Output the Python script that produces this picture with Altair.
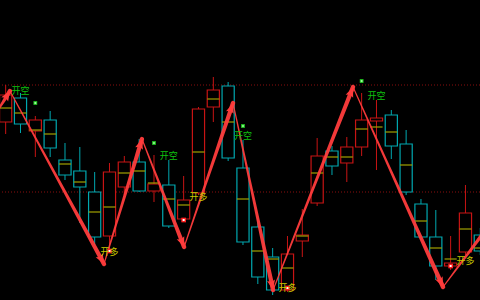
import math
import altair as alt
import pandas as pd

# ---- candle data (price units) ----
OPEN  = [3478, 3502, 3469, 3480, 3440, 3429, 3408, 3364, 3413, 3438, 3409, 3415, 3381, 3407, 3493, 3514, 3432,
         3373, 3343, 3310, 3359, 3397, 3449, 3437, 3453, 3479, 3485, 3456, 3396, 3363, 3334, 3348, 3365]
CLOSE = [3505, 3476, 3480, 3452, 3425, 3413, 3363, 3428, 3438, 3409, 3416, 3374, 3400, 3491, 3510, 3442, 3358,
         3323, 3310, 3346, 3365, 3444, 3434, 3453, 3480, 3482, 3454, 3408, 3363, 3334, 3337, 3387, 3349]
HIGH  = [3515, 3507, 3484, 3489, 3457, 3453, 3428, 3437, 3444, 3461, 3445, 3440, 3424, 3493, 3523, 3518, 3460,
         3382, 3352, 3364, 3391, 3462, 3454, 3463, 3507, 3500, 3490, 3470, 3401, 3390, 3364, 3415, 3372]
LOW   = [3466, 3467, 3443, 3443, 3420, 3377, 3355, 3350, 3405, 3408, 3398, 3372, 3378, 3405, 3478, 3439, 3355,
         3316, 3305, 3308, 3343, 3394, 3425, 3418, 3444, 3430, 3441, 3405, 3360, 3320, 3330, 3345, 3345]
MID   = [3492, 3487, 3470, 3466, 3436, 3418, 3388, 3393, 3427, 3429, 3417, 3401, 3395, 3448, 3501, 3478, 3401,
         3349, 3341, 3332, 3364, 3427, 3443, 3443, 3471, 3473, 3468, 3435, 3379, 3352, 3341, 3371, 3352]

# ---- zigzag turning points (bar index, price) ----
ZZ_I = [-0.72, 0.29, 6.63, 9.19, 12.03, 15.33, 18.03, 23.42, 29.49, 33.0]
ZZ_P = [3485, 3509, 3336, 3461, 3353, 3497, 3310, 3513, 3313, 3383]

# ---- signals ----
SHORT_I = [1, 11, 16, 25]
SHORT_P = [3509, 3444, 3464, 3504]
LONG_I = [7, 13, 19, 31]
LONG_P = [3348, 3403, 3312, 3339]
GDOT_I = [2, 10, 16, 24]
GDOT_P = [3497, 3457, 3474, 3519]
RDOT_I = [7, 12, 19, 30]
RDOT_P = [3349, 3380, 3312, 3334]

LEVELS = [3515, 3408]

W, H = 480, 300
XMIN, XMAX = -0.382, 31.98
YMIN, YMAX = 3300, 3600
HALF = 0.41

RED = "#c81414"
CYAN = "#00a8b0"
YEL = "#a0a000"
ARROW = "#ff3c3c"

xs = alt.Scale(domain=[XMIN, XMAX], nice=False, zero=False)
ys = alt.Scale(domain=[YMIN, YMAX], nice=False, zero=False)

n = len(OPEN)
cd = pd.DataFrame({"i": list(range(n)), "open": OPEN, "close": CLOSE,
                   "high": HIGH, "low": LOW, "mid": MID})
cd["x0"] = cd["i"] - HALF
cd["x1"] = cd["i"] + HALF

col = alt.condition("datum.close >= datum.open", alt.value(RED), alt.value(CYAN))

base = alt.Chart(cd)
wick = base.mark_rule(strokeWidth=1).encode(
    x=alt.X("i:Q", scale=xs, axis=None),
    y=alt.Y("high:Q", scale=ys, axis=None), y2="low:Q", stroke=col)
body = base.mark_rect(fill="black", strokeWidth=1.2).encode(
    x=alt.X("x0:Q", scale=xs, axis=None), x2="x1:Q",
    y=alt.Y("open:Q", scale=ys, axis=None), y2="close:Q", stroke=col)
midl = base.mark_rule(strokeWidth=1.2, color=YEL).encode(
    x=alt.X("x0:Q", scale=xs, axis=None), x2="x1:Q",
    y=alt.Y("mid:Q", scale=ys, axis=None))

lv = alt.Chart(pd.DataFrame({"p": LEVELS})).mark_rule(
    color="#8a0f0f", strokeWidth=1, strokeDash=[1, 2]).encode(
    y=alt.Y("p:Q", scale=ys, axis=None))

# tapered zigzag arrows
rows = []
heads = []
px_i = W / (XMAX - XMIN)
px_p = H / (YMAX - YMIN)
for k in range(len(ZZ_I) - 1):
    rows.append({"seg": k, "o": 0, "x": ZZ_I[k], "p": ZZ_P[k], "w": 1.1})
    rows.append({"seg": k, "o": 1, "x": ZZ_I[k + 1], "p": ZZ_P[k + 1], "w": 4.4})
    dx = (ZZ_I[k + 1] - ZZ_I[k]) * px_i
    dy = -(ZZ_P[k + 1] - ZZ_P[k]) * px_p
    ang = math.degrees(math.atan2(dx, -dy)) % 360
    if k < len(ZZ_I) - 2:
        heads.append({"x": ZZ_I[k + 1], "p": ZZ_P[k + 1], "a": ang})
tr = alt.Chart(pd.DataFrame(rows)).mark_trail(color=ARROW, opacity=0.95).encode(
    x=alt.X("x:Q", scale=xs, axis=None),
    y=alt.Y("p:Q", scale=ys, axis=None),
    size=alt.Size("w:Q", scale=None, legend=None),
    detail="seg:N", order="o:Q")
hd = alt.Chart(pd.DataFrame(heads)).mark_point(
    shape="M0,0L0.85,2.1L0,1.7L-0.85,2.1Z", filled=True, color=ARROW, opacity=1, size=90).encode(
    x=alt.X("x:Q", scale=xs, axis=None),
    y=alt.Y("p:Q", scale=ys, axis=None),
    angle=alt.Angle("a:Q", scale=None))

gd = alt.Chart(pd.DataFrame({"i": GDOT_I, "p": GDOT_P})).mark_square(
    color="#22cc22", size=14, opacity=1).encode(
    x=alt.X("i:Q", scale=xs, axis=None), y=alt.Y("p:Q", scale=ys, axis=None))
gd2 = alt.Chart(pd.DataFrame({"i": GDOT_I, "p": GDOT_P})).mark_square(
    color="#b0ffb0", size=3, opacity=1).encode(
    x=alt.X("i:Q", scale=xs, axis=None), y=alt.Y("p:Q", scale=ys, axis=None))

rd = alt.Chart(pd.DataFrame({"i": RDOT_I, "p": RDOT_P})).mark_square(
    color="#ff2020", size=22, opacity=1).encode(
    x=alt.X("i:Q", scale=xs, axis=None), y=alt.Y("p:Q", scale=ys, axis=None))
rd2 = alt.Chart(pd.DataFrame({"i": RDOT_I, "p": RDOT_P})).mark_square(
    color="#ffffff", size=4, opacity=1).encode(
    x=alt.X("i:Q", scale=xs, axis=None), y=alt.Y("p:Q", scale=ys, axis=None))

st = alt.Chart(pd.DataFrame({"i": SHORT_I, "p": SHORT_P, "t": ["开空"] * len(SHORT_I)})).mark_text(
    font="Noto Sans CJK SC", fontSize=9, color="#10c010", baseline="middle").encode(
    x=alt.X("i:Q", scale=xs, axis=None), y=alt.Y("p:Q", scale=ys, axis=None), text="t:N")
lt = alt.Chart(pd.DataFrame({"i": LONG_I, "p": LONG_P, "t": ["开多"] * len(LONG_I)})).mark_text(
    font="Noto Sans CJK SC", fontSize=9, color="#c8c800", baseline="middle").encode(
    x=alt.X("i:Q", scale=xs, axis=None), y=alt.Y("p:Q", scale=ys, axis=None), text="t:N")

top = alt.Chart(pd.DataFrame({"t": ["MA5: 3352.16  MA10: 3378.61  MA20: 3405.22"]})).mark_text(
    fontSize=9, color="#7a7a7a", align="left", baseline="middle", font="DejaVu Sans").encode(
    x=alt.value(14), y=alt.value(-3), text="t:N")

chart = alt.layer(lv, wick, body, midl, tr, hd, gd, gd2, rd, rd2, st, lt, top).properties(
    width=W, height=H, background="black", padding=0,
    autosize=alt.AutoSizeParams(type="none")
).configure_view(stroke=None)

chart.save("out.html", embed_options={"renderer": "svg", "actions": False})
